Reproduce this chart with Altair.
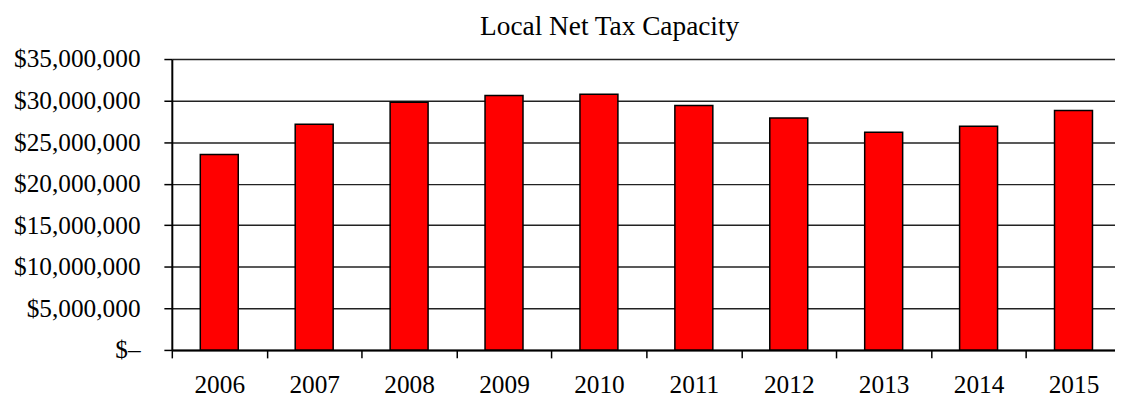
import altair as alt
import pandas as pd

years = ["2006", "2007", "2008", "2009", "2010", "2011", "2012", "2013", "2014", "2015"]
values = [23500000, 27150000, 29800000, 30600000, 30750000, 29400000, 27900000, 26200000, 26900000, 28800000]
y_ticks = [0, 5000000, 10000000, 15000000, 20000000, 25000000, 30000000, 35000000]

df = pd.DataFrame({"year": years, "value": values})

FONT = "Liberation Serif"

chart = alt.Chart(df).mark_bar(
    color="#ff0000", stroke="#000000", strokeWidth=1.5,
    width=alt.RelativeBandSize(0.4)
).encode(
    x=alt.X("year:N", sort=years, title=None,
            scale=alt.Scale(paddingInner=0, paddingOuter=0, range=[0, 956]),
            axis=alt.Axis(labelAngle=0, tickBand="extent", tickSize=8, tickWidth=1.5,
                          tickColor="#000", domainColor="#000", domainWidth=2,
                          labelPadding=15, labelFontSize=25.5, labelFont=FONT,
                          labelColor="#000", grid=False)),
    y=alt.Y("value:Q", title=None,
            scale=alt.Scale(domain=[0, 35000000], nice=False),
            axis=alt.Axis(values=y_ticks, tickSize=8, tickWidth=1.5, tickColor="#000",
                          domainColor="#000", domainWidth=2,
                          labelExpr="datum.value == 0 ? '$–' : '$' + format(datum.value, ',')",
                          labelPadding=24, labelFontSize=25.5, labelFont=FONT, labelColor="#000",
                          grid=True, gridColor="#222", gridWidth=1.5)),
).properties(
    width=950, height=293,
    title=alt.TitleParams("Local Net Tax Capacity", font=FONT, fontSize=27.5,
                          fontWeight="normal", color="#000", anchor="middle",
                          frame="group", dx=-34, offset=7),
    autosize=alt.AutoSizeParams(type="none"),
    padding={"left": 165, "top": 50, "right": 0, "bottom": 46},
).configure_view(stroke=None)

chart.save("out.html", embed_options={"renderer": "svg", "actions": False})
